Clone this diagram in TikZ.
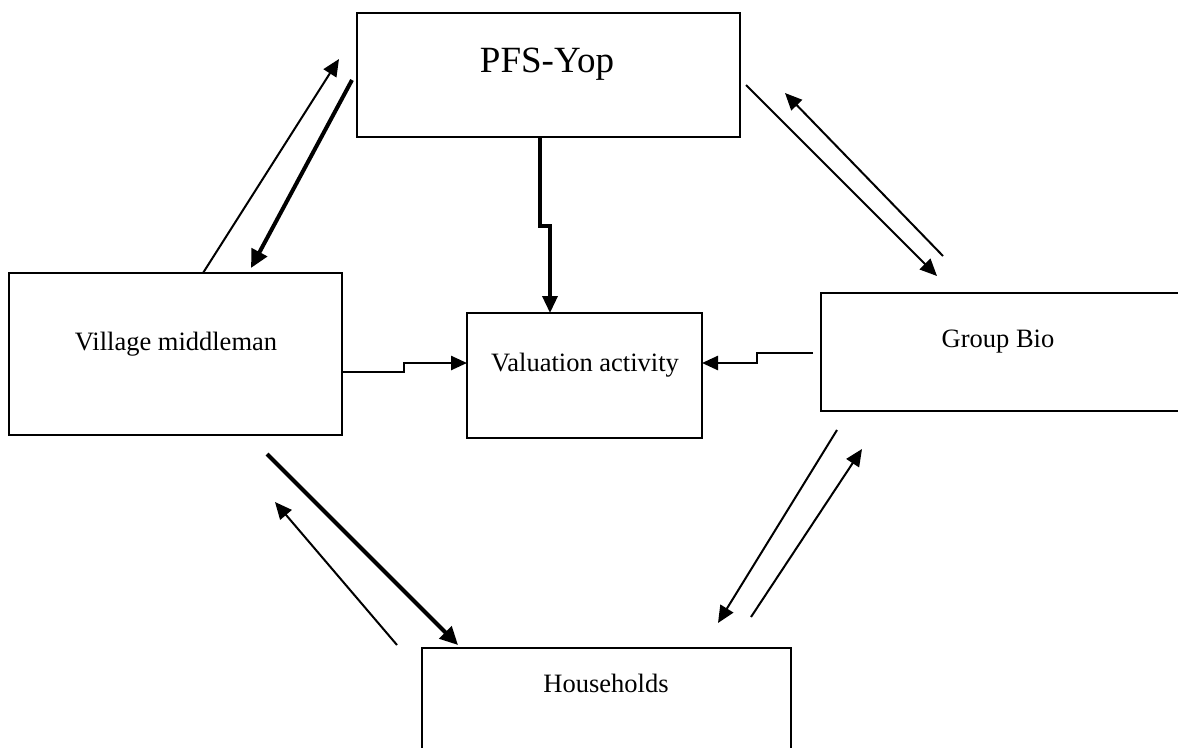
\documentclass[tikz,border=0pt]{standalone}
\usepackage{fontspec}
\setmainfont{Liberation Serif}
\usetikzlibrary{arrows.meta,calc}
\begin{document}
\begin{tikzpicture}[x=1pt,y=-1pt,
  box/.style={draw, line width=2pt, inner sep=0pt, outer sep=0pt, anchor=north west},
  lbl/.style={font=\fontsize{26.5}{30}\selectfont, anchor=base, inner sep=0pt},
  conn/.style={line width=2pt, -{Triangle[length=17pt,width=15pt]}},
  boldconn/.style={line width=4pt, -{Triangle[length=18pt,width=17pt]}},
  stepconn/.style={line width=2.5pt, -{Triangle[length=16pt,width=14pt]}}]
\useasboundingbox (0,0) rectangle (1178,747);
\clip (0,0) rectangle (1178,747);
% boxes
\node[box, minimum width=383pt, minimum height=124pt] (pfs) at (357,13) {};
\node[box, minimum width=333pt, minimum height=162pt] (vm) at (9,273) {};
\node[box, minimum width=235pt, minimum height=125pt] (va) at (467,313) {};
\node[box, minimum width=400pt, minimum height=118pt] (gb) at (821,293) {};
\node[box, minimum width=369pt, minimum height=120pt] (hh) at (422,648) {};
% labels
\node[lbl, font=\fontsize{37}{40}\selectfont] (pfst) at (547,72) {PFS-Yop};
\node[lbl] (vmt) at (176,350) {Village middleman};
\node[lbl] (vat) at (585,371) {Valuation activity};
\node[lbl] (gbt) at (998,347) {Group Bio};
\node[lbl] (hht) at (606,692) {Households};
% connector end points
\coordinate (a1s) at (203,273);
\coordinate (a1e) at (339,59);
\coordinate (a2s) at (352,80);
\coordinate (a2e) at (251,268);
\coordinate (a6s) at (746,85);
\coordinate (a6e) at (937,276);
\coordinate (a7s) at (943,256);
\coordinate (a7e) at (785,93);
\coordinate (a8s) at (837,430);
\coordinate (a8e) at (718,623);
\coordinate (a9s) at (751,617);
\coordinate (a9e) at (862,449);
\coordinate (a10s) at (267,454);
\coordinate (a10e) at (458,645);
\coordinate (a11s) at (397,645);
\coordinate (a11e) at (275,502);
\coordinate (gbs) at (813,353);
% connectors
\draw[conn] (a1s) -- (a1e);
\draw[boldconn] (a2s) -- (a2e);
\draw[line width=3.5pt, -{Triangle[length=17pt,width=15pt]}] (pfs.south -| 540,0) -- (540,226) -- (550,226) -- (va.north -| 550,0);
\draw[stepconn] (vm.east |- 0,372) -- (404,372) -- (404,363) -- (va.west |- 0,363);
\draw[stepconn] (gbs) -- (757,353) -- (757,363) -- (va.east |- 0,363);
\draw[conn] (a6s) -- (a6e);
\draw[conn] (a7s) -- (a7e);
\draw[conn] (a8s) -- (a8e);
\draw[conn] (a9s) -- (a9e);
\draw[boldconn] (a10s) -- (a10e);
\draw[conn] (a11s) -- (a11e);
\end{tikzpicture}
\end{document}
